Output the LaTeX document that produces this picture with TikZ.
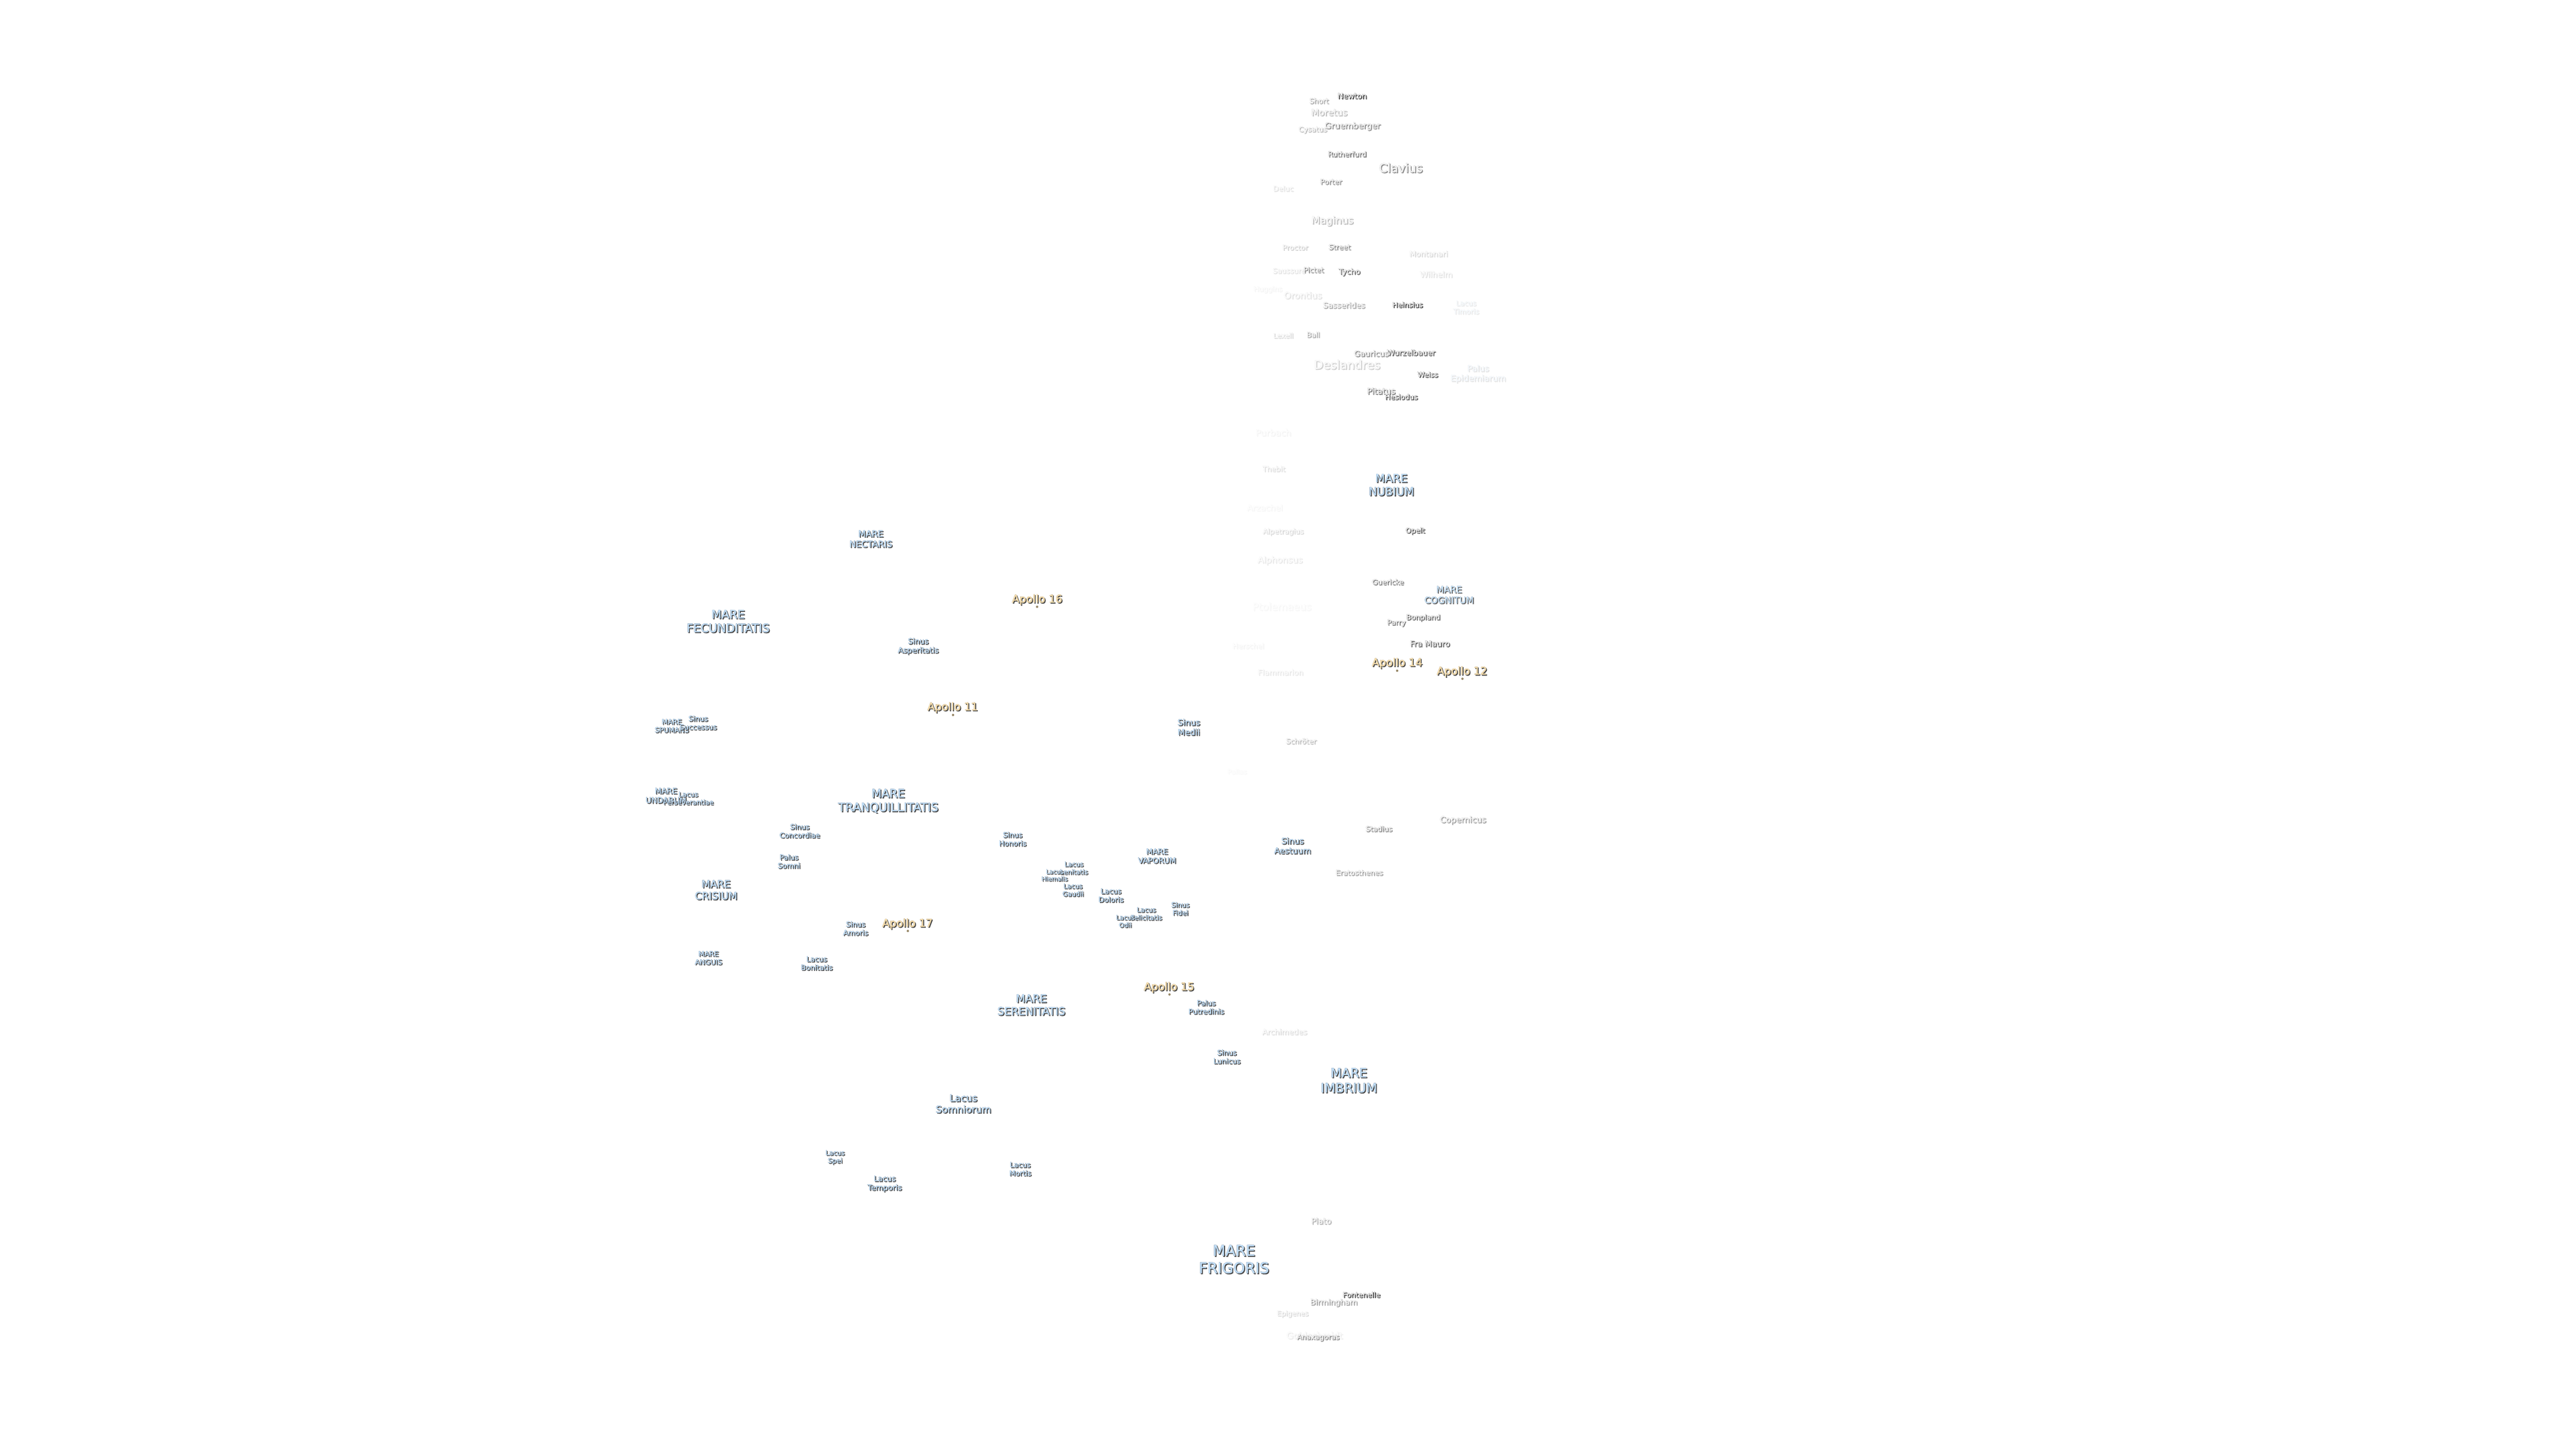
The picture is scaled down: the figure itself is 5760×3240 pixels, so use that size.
\documentclass[tikz,border=0pt]{standalone}
\usepackage{fontspec}
\usetikzlibrary{positioning}
\setmainfont{DejaVu Sans}
\newfontfamily\haloshadow{DejaVu Sans}[FakeBold=2.2]
\newfontfamily\haloline{DejaVu Sans}[FakeBold=1.7]
\newfontfamily\haloface{DejaVu Sans}[FakeBold=0.4]
\definecolor{mareface}{HTML}{C0DDF6}
\definecolor{mareedge}{HTML}{708090}
\definecolor{mareshade}{HTML}{484848}
\definecolor{craterface}{HTML}{EEEEEE}
\definecolor{crateredge}{HTML}{808080}
\definecolor{cratershade}{HTML}{404040}
\definecolor{siteface}{HTML}{F8DFAE}
\definecolor{siteedge}{HTML}{988868}
\definecolor{siteshade}{HTML}{484848}
\tikzset{
    moontext/.style={inner sep=0pt, align=center, anchor=center},
    sitedot/.style={circle, inner sep=0pt, minimum size=1.5pt, fill=siteedge}
}
% name, x, y, font size in px, kind, strength in percent, text
\newcommand{\moonlabel}[7]{%
    \pgfmathsetmacro{\lsize}{#4*0.2845}%
    \pgfmathsetmacro{\lskip}{#4*0.2845*1.18}%
    \node[moontext, text=#5shade!#6!white, font=\haloshadow\fontsize{\lsize}{\lskip}\selectfont] (#1s) at (#2+2,#3+2) {#7};
    \node[moontext, text=#5edge!#6!white, font=\haloline\fontsize{\lsize}{\lskip}\selectfont] (#1e) at (#2,#3) {#7};
    \node[moontext, text=#5face!#6!white, font=\haloface\fontsize{\lsize}{\lskip}\selectfont] (#1) at (#2,#3) {#7};
}
\begin{document}
\begin{tikzpicture}[x=0.01cm, y=-0.01cm]
    \useasboundingbox[fill=white] (0,0) rectangle (5760,3240);

    % southern highlands
    \moonlabel{deluc}{2869}{421}{16}{crater}{15}{Deluc}
    \moonlabel{short}{2949}{225}{16}{crater}{45}{Short}
    \moonlabel{newton}{3023}{214}{17}{crater}{100}{Newton}
    \moonlabel{moretus}{2972}{251}{20}{crater}{35}{Moretus}
    \moonlabel{cysatus}{2935}{290}{16}{crater}{35}{Cysatus}
    \moonlabel{gruemberger}{3024}{282}{18.5}{crater}{60}{Gruemberger}
    \moonlabel{rutherfurd}{3012}{344}{16}{crater}{75}{Rutherfurd}
    \moonlabel{clavius}{3132}{375}{27}{crater}{60}{Clavius}
    \moonlabel{porter}{2976}{406}{16}{crater}{60}{Porter}
    \moonlabel{maginus}{2979}{494}{22.5}{crater}{35}{Maginus}
    \moonlabel{proctor}{2896}{553}{16}{crater}{25}{Proctor}
    \moonlabel{street}{2995}{552}{16}{crater}{65}{Street}
    \moonlabel{montanari}{3194}{567}{17}{crater}{20}{Montanari}
    \moonlabel{wilhelm}{3211}{613}{18}{crater}{15}{Wilhelm}
    \moonlabel{saussure}{2882}{605}{16}{crater}{15}{Saussure}
    \moonlabel{pictet}{2937}{603}{16}{crater}{60}{Pictet}
    \moonlabel{tycho}{3017}{608}{17}{crater}{80}{Tycho}
    \moonlabel{huggins}{2835}{647}{15.5}{crater}{6}{Huggins}
    \moonlabel{orontius}{2913}{660}{20}{crater}{15}{Orontius}
    \moonlabel{sasserides}{3005}{682}{17.5}{crater}{45}{Sasserides}
    \moonlabel{heinsius}{3147}{681}{16}{crater}{100}{Heinsius}
    \moonlabel{timoris}{3278}{687}{15.7}{mare}{12}{Lacus\\Timoris}
    \moonlabel{lexell}{2869}{750}{15.5}{crater}{20}{Lexell}
    \moonlabel{ball}{2936}{748}{16}{crater}{45}{Ball}
    \moonlabel{gauricus}{3066}{790}{17.5}{crater}{60}{Gauricus}
    \moonlabel{wurzelbauer}{3155}{788}{17}{crater}{85}{Wurzelbauer}
    \moonlabel{deslandres}{3012}{815}{26.5}{crater}{25}{Deslandres}
    \moonlabel{weiss}{3192}{837}{16}{crater}{90}{Weiss}
    \moonlabel{epidemiarum}{3305}{836}{18.5}{mare}{15}{Palus\\Epidemiarum}
    \moonlabel{pitatus}{3088}{874}{18.5}{crater}{70}{Pitatus}
    \moonlabel{hesiodus}{3133}{887}{16}{crater}{90}{Hesiodus}

    % around Mare Nubium
    \moonlabel{purbach}{2847}{967}{19.5}{crater}{6}{Purbach}
    \moonlabel{thebit}{2848}{1048}{16}{crater}{18}{Thebit}
    \moonlabel{nubium}{3111}{1084}{25}{mare}{100}{MARE\\NUBIUM}
    \moonlabel{arzachel}{2828}{1135}{18.5}{crater}{5}{Arzachel}
    \moonlabel{alpetragius}{2869}{1189}{16}{crater}{20}{Alpetragius}
    \moonlabel{opelt}{3164}{1187}{16}{crater}{90}{Opelt}
    \moonlabel{alphonsus}{2862}{1253}{19.5}{crater}{12}{Alphonsus}
    \moonlabel{guericke}{3103}{1301}{16}{crater}{70}{Guericke}
    \moonlabel{cognitum}{3240}{1330}{20}{mare}{85}{MARE\\COGNITUM}
    \moonlabel{ptolemaeus}{2866}{1356}{22.5}{crater}{4}{Ptolemaeus}
    \moonlabel{bonpland}{3182}{1381}{16}{crater}{80}{Bonpland}
    \moonlabel{parry}{3122}{1393}{16}{crater}{70}{Parry}
    \moonlabel{framauro}{3197}{1439}{18}{crater}{85}{Fra Mauro}
    \moonlabel{herschel}{2791}{1444}{16}{crater}{6}{Herschel}
    \moonlabel{flammarion}{2863}{1503}{17}{crater}{12}{Flammarion}
    \moonlabel{schroter}{2909}{1657}{16}{crater}{35}{Schröter}
    \moonlabel{pallas}{2766}{1725}{15}{crater}{3}{Pallas}

    % eastern seas
    \moonlabel{nectaris}{1947}{1205}{19.5}{mare}{100}{MARE\\NECTARIS}
    \moonlabel{fecunditatis}{1628}{1389}{26}{mare}{100}{MARE\\FECUNDITATIS}
    \moonlabel{asperitatis}{2053}{1445}{17}{mare}{100}{Sinus\\Asperitatis}
    \moonlabel{spumans}{1502}{1623}{15.5}{mare}{100}{MARE\\SPUMANS}
    \moonlabel{successus}{1561}{1616}{16}{mare}{100}{Sinus\\Successus}
    \moonlabel{undarum}{1489}{1779}{17.5}{mare}{100}{MARE\\UNDARUM}
    \moonlabel{perseverantiae}{1539}{1785}{15}{mare}{100}{Lacus\\Perseverantiae}
    \moonlabel{tranquillitatis}{1986}{1791}{26}{mare}{100}{MARE\\TRANQUILLITATIS}
    \moonlabel{concordiae}{1788}{1858}{16}{mare}{100}{Sinus\\Concordiae}
    \moonlabel{somni}{1764}{1926}{16}{mare}{100}{Palus\\Somni}
    \moonlabel{crisium}{1601}{1990}{22.5}{mare}{100}{MARE\\CRISIUM}
    \moonlabel{amoris}{1913}{2076}{16}{mare}{100}{Sinus\\Amoris}
    \moonlabel{anguis}{1584}{2142}{15.7}{mare}{100}{MARE\\ANGUIS}
    \moonlabel{bonitatis}{1826}{2154}{16}{mare}{100}{Lacus\\Bonitatis}

    % centre
    \moonlabel{medii}{2658}{1626}{18.5}{mare}{100}{Sinus\\Medii}
    \moonlabel{honoris}{2264}{1876}{16}{mare}{100}{Sinus\\Honoris}
    \moonlabel{lenitatis}{2401}{1941}{14.7}{mare}{100}{Lacus\\Lenitatis}
    \moonlabel{hiemalis}{2358}{1957}{13.5}{mare}{100}{Lacus\\Hiemalis}
    \moonlabel{gaudii}{2399}{1990}{14.7}{mare}{100}{Lacus\\Gaudii}
    \moonlabel{doloris}{2484}{2002}{16}{mare}{100}{Lacus\\Doloris}
    \moonlabel{vaporum}{2587}{1914}{17}{mare}{100}{MARE\\VAPORUM}
    \moonlabel{fidei}{2639}{2032}{15}{mare}{100}{Sinus\\Fidei}
    \moonlabel{felicitatis}{2563}{2043}{14.8}{mare}{100}{Lacus\\Felicitatis}
    \moonlabel{odii}{2516}{2060}{14.3}{mare}{100}{Lacus\\Odii}
    \moonlabel{aestuum}{2890}{1891}{18.5}{mare}{100}{Sinus\\Aestuum}
    \moonlabel{stadius}{3083}{1853}{16}{crater}{60}{Stadius}
    \moonlabel{copernicus}{3271}{1834}{18.5}{crater}{50}{Copernicus}
    \moonlabel{eratosthenes}{3039}{1951}{16}{crater}{50}{Eratosthenes}

    % north
    \moonlabel{serenitatis}{2306}{2247}{24}{mare}{100}{MARE\\SERENITATIS}
    \moonlabel{putredinis}{2697}{2252}{16}{mare}{100}{Palus\\Putredinis}
    \moonlabel{archimedes}{2872}{2307}{17}{crater}{18}{Archimedes}
    \moonlabel{lunicus}{2743}{2363}{16}{mare}{100}{Sinus\\Lunicus}
    \moonlabel{imbrium}{3016}{2416}{28.5}{mare}{100}{MARE\\IMBRIUM}
    \moonlabel{somniorum}{2154}{2468}{21.5}{mare}{100}{Lacus\\Somniorum}
    \moonlabel{spei}{1867}{2588}{14.8}{mare}{100}{Lacus\\Spei}
    \moonlabel{temporis}{1978}{2647}{17}{mare}{100}{Lacus\\Temporis}
    \moonlabel{mortis}{2281}{2614}{16}{mare}{100}{Lacus\\Mortis}
    \moonlabel{plato}{2954}{2730}{18}{crater}{40}{Plato}
    \moonlabel{frigoris}{2759}{2816}{33}{mare}{100}{MARE\\FRIGORIS}
    \moonlabel{fontenelle}{3044}{2895}{16}{crater}{100}{Fontenelle}
    \moonlabel{birmingham}{2982}{2913}{17.3}{crater}{50}{Birmingham}
    \moonlabel{epigenes}{2890}{2938}{15.4}{crater}{20}{Epigenes}
    \moonlabel{goldschmidt}{2939}{2986}{20}{crater}{10}{Goldschmidt}
    \moonlabel{anaxagoras}{2947}{2991}{16}{crater}{60}{Anaxagoras}

    % landing sites
    \moonlabel{apollosixteen}{2319}{1341}{24}{site}{100}{Apollo 16}
    \node[sitedot] (dotsixteen) at (2319,1357) {};
    \moonlabel{apolloeleven}{2130}{1582}{24}{site}{100}{Apollo 11}
    \node[sitedot] (doteleven) at (2131,1599) {};
    \moonlabel{apolloseventeen}{2029}{2066}{24}{site}{100}{Apollo 17}
    \node[sitedot] (dotseventeen) at (2030,2082) {};
    \moonlabel{apollofifteen}{2614}{2208}{24}{site}{100}{Apollo 15}
    \node[sitedot] (dotfifteen) at (2615,2224) {};
    \moonlabel{apollofourteen}{3124}{1483}{24}{site}{100}{Apollo 14}
    \node[sitedot] (dotfourteen) at (3124,1500) {};
    \moonlabel{apollotwelve}{3269}{1502}{24}{site}{100}{Apollo 12}
    \node[sitedot] (dottwelve) at (3270,1518) {};
\end{tikzpicture}
\end{document}
